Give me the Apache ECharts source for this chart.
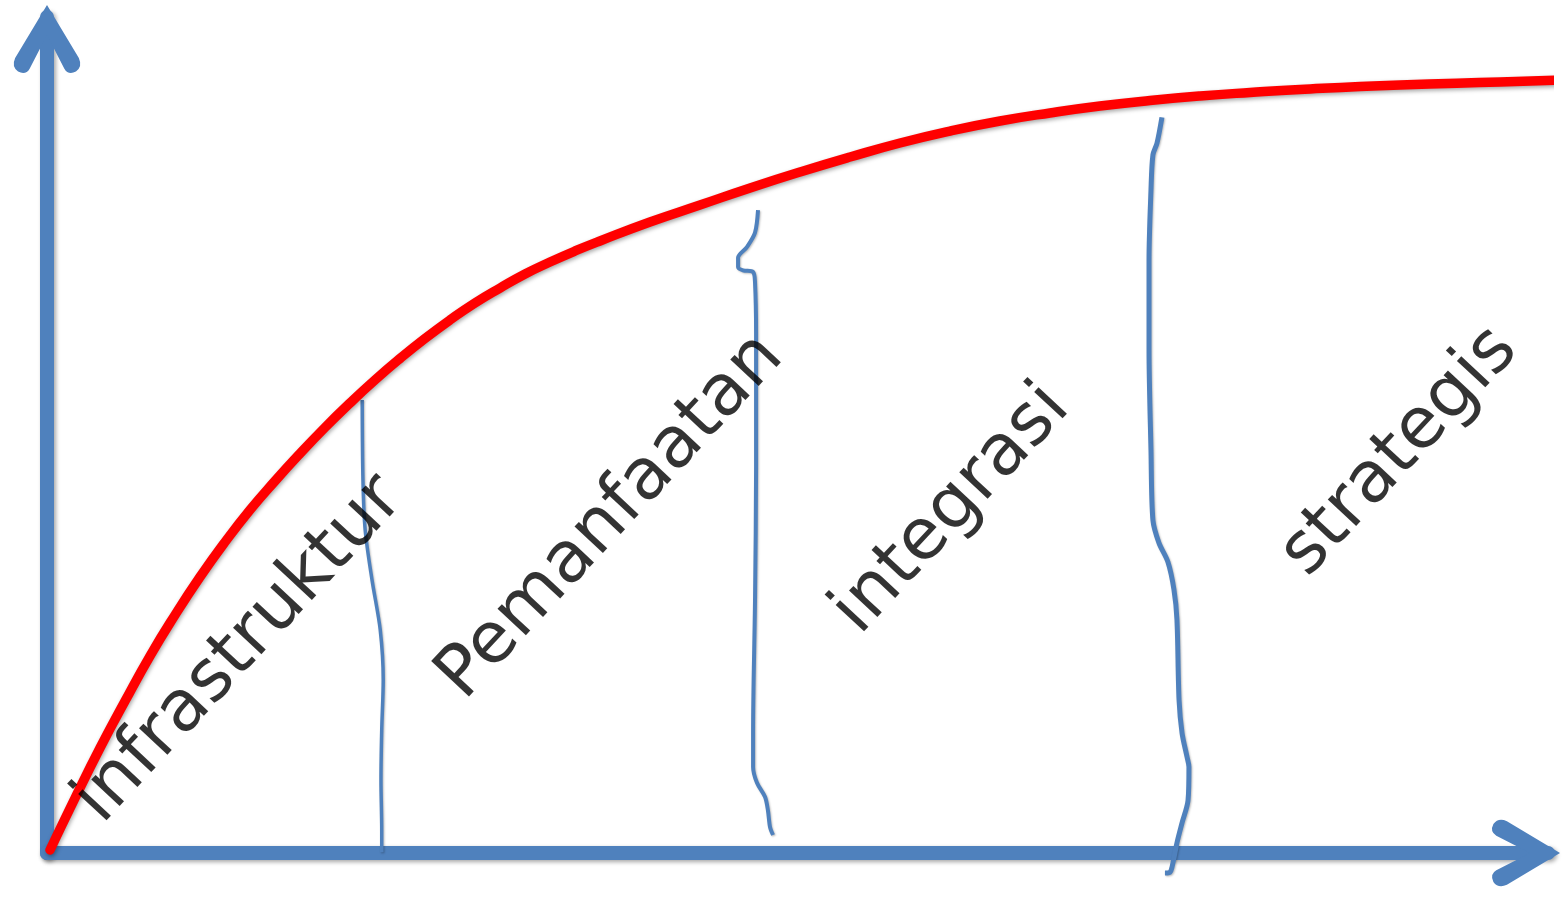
<!DOCTYPE html>
<html><head><meta charset="utf-8">
<script src="https://cdn.jsdelivr.net/npm/echarts@6/dist/echarts.min.js"></script>
<style>html,body{margin:0;padding:0;background:#fff}#c{width:1564px;height:898px}</style>
</head><body><div id="c"></div>
<script>
// Stage names (categories)
const stages = ['infrastruktur', 'Pemanfaatan', 'integrasi', 'strategis'];

// Maturity curve (x: time, y: level)
const curveX = [0.2, 1.87, 3.53, 5.2, 6.86, 8.53, 10.19, 11.86, 13.52, 15.19, 16.86, 18.52, 20.19, 21.85, 23.52, 25.18, 26.85, 28.51, 30.18, 31.85, 33.51, 35.18, 36.84, 40.17, 43.5, 46.84, 50.17, 53.5, 56.83, 60.16, 63.49, 66.82, 70.15, 73.48, 76.82, 80.15, 83.48, 90.14, 96.8, 100.93];
const curveY = [0.36, 6.58, 12.56, 18.18, 23.56, 28.47, 33.01, 37.2, 41.03, 44.5, 47.79, 50.9, 53.83, 56.58, 59.15, 61.54, 63.76, 65.79, 67.58, 69.26, 70.69, 72.01, 73.21, 75.48, 77.51, 79.55, 81.46, 83.25, 84.93, 86.36, 87.56, 88.52, 89.35, 90.01, 90.55, 90.97, 91.33, 91.87, 92.22, 92.46];

// Hand-drawn stage boundaries
const border1X = [21.0, 21.05, 21.2, 21.65, 22.2, 22.4, 22.3, 22.25, 22.3, 22.3];
const border1Y = [54.2, 44.6, 38.6, 32.7, 26.7, 20.7, 14.7, 8.7, 2.75, 0.1];
const border2X = [47.37, 47.17, 46.64, 46.04, 46.04, 46.37, 47.04, 47.17, 47.24, 47.24, 47.17, 47.04, 47.04, 47.30, 47.84, 48.03, 48.17, 48.37];
const border2Y = [76.9, 74.2, 72.5, 71.2, 70.1, 69.7, 69.5, 68.2, 62.2, 46.2, 30.3, 14.4, 10.3, 8.4, 6.7, 5.1, 3.1, 2.15];
const border3X = [74.28, 73.95, 73.68, 73.55, 73.42, 73.42, 73.55, 73.68, 74.08, 74.68, 75.08, 75.28, 75.42, 75.62, 75.95, 76.08, 76.02, 75.62, 75.28, 74.95, 74.82, 74.48];
const border3Y = [88.0, 84.9, 83.5, 79.3, 70.9, 60.2, 48.2, 39.8, 37.1, 34.8, 31.5, 27.9, 18.3, 14.35, 11.5, 10.3, 6.3, 3.6, 1.2, -1.7, -2.3, -2.4];

// ---- layout (label anchors in axis units) ----
const labelAnchors = [[12.86, 24.28], [37.58, 40.19], [60.29, 41.03], [90.14, 47.97]];

const zip = (xs, ys) => xs.map((x, i) => [x, ys[i]]);
const chevron = 'path://M35 0 L68 55 Q72 64 65 69 Q57 73 53 66 L35 31 L17 66 Q13 73 5 69 Q-2 64 2 55 Z';
const axisBlue = '#4f81bd';
const axisBase = {
  type: 'value', min: 0, max: 100,
  axisLine: {
    show: true, onZero: false,
    symbol: ['none', chevron], symbolSize: [68, 68], symbolOffset: [0, -22],
    lineStyle: { color: axisBlue, width: 14, shadowColor: 'rgba(0,0,0,0.35)', shadowBlur: 4, shadowOffsetX: 2, shadowOffsetY: 2 }
  },
  axisTick: { show: false }, axisLabel: { show: false }, splitLine: { show: false }
};
const borderStyle = (w) => ({ color: axisBlue, width: w, shadowColor: 'rgba(0,0,0,0.25)', shadowBlur: 2, shadowOffsetX: 1, shadowOffsetY: 1 });
const borderSeries = (xs, ys, w) => ({
  type: 'line', data: zip(xs, ys), smooth: 0.3, showSymbol: false, clip: false,
  lineStyle: borderStyle(w), z: 3
});

const chart = echarts.init(document.getElementById('c'), null, { renderer: 'canvas' });
chart.setOption({
  animation: false,
  backgroundColor: '#ffffff',
  grid: { left: 47, right: 16, top: 17, bottom: 45 },
  xAxis: Object.assign({}, axisBase),
  yAxis: Object.assign({}, axisBase),
  series: [
    borderSeries(border1X, border1Y, 3.5),
    borderSeries(border2X, border2Y, 4),
    borderSeries(border3X, border3Y, 5),
    {
      type: 'line', data: zip(curveX, curveY), smooth: 0.5, showSymbol: false, clip: false, z: 4,
      lineStyle: { color: '#ff0000', width: 9.5, cap: 'round', join: 'round', shadowColor: 'rgba(0,0,0,0.35)', shadowBlur: 4, shadowOffsetX: 1, shadowOffsetY: 2 }
    },
    {
      type: 'scatter', symbolSize: 1, z: 6, clip: false,
      itemStyle: { color: 'rgba(0,0,0,0)' },
      data: stages.map((s, i) => ({ name: s, value: labelAnchors[i] })),
      label: {
        show: true, position: 'inside', formatter: '{b}', rotate: 47,
        fontFamily: 'DejaVu Sans', fontSize: 71, color: '#000000',
        align: 'center', verticalAlign: 'middle'
      }
    }
  ]
});
</script></body></html>
